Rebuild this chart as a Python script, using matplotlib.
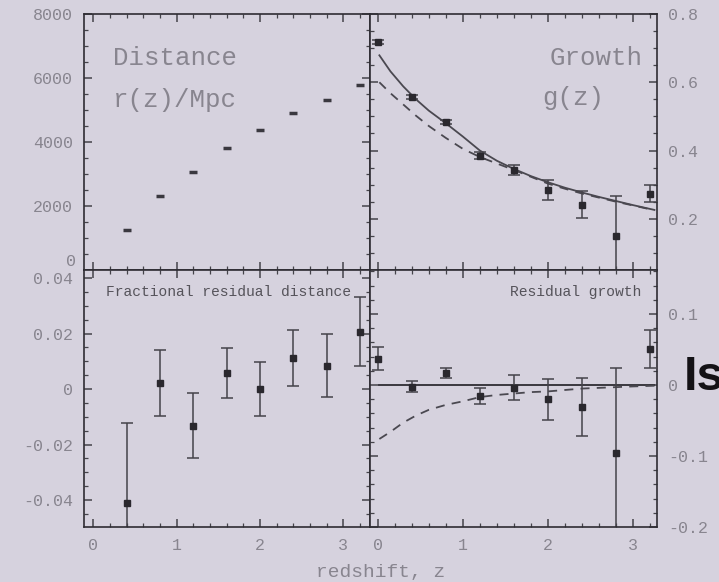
import numpy as np
import matplotlib
matplotlib.use('Agg')
import matplotlib.pyplot as plt
from matplotlib.ticker import MultipleLocator, FuncFormatter

# distance data
z_dist = [0.4, 0.8, 1.2, 1.6, 2.0, 2.4, 2.8, 3.2]
r_dist = [1250, 2310, 3060, 3810, 4375, 4905, 5310, 5780]

# growth data
z_growth = [0.0, 0.4, 0.8, 1.2, 1.6, 2.0, 2.4, 2.8, 3.2]
g_growth = [0.718, 0.556, 0.483, 0.385, 0.342, 0.285, 0.241, 0.150, 0.274]
g_err = [0.006, 0.006, 0.006, 0.010, 0.015, 0.030, 0.040, 0.118, 0.026]

# model curves
z_model = [0.02, 0.15, 0.3, 0.45, 0.6, 0.8, 1.0, 1.2, 1.4, 1.6, 1.8, 2.0,
           2.2, 2.4, 2.6, 2.8, 3.0, 3.25]
g_solid = [0.679, 0.632, 0.588, 0.550, 0.517, 0.480, 0.441, 0.400, 0.370,
           0.346, 0.325, 0.307, 0.291, 0.277, 0.264, 0.252, 0.240, 0.226]
g_dashed = [0.600, 0.568, 0.535, 0.502, 0.472, 0.437, 0.405, 0.381, 0.362,
            0.343, 0.323, 0.303, 0.288, 0.274, 0.262, 0.250, 0.239, 0.225]

# residuals
res_dist = [-0.0411, 0.0022, -0.0132, 0.0059, 0.0001, 0.0112, 0.0084, 0.0207]
res_dist_err = [0.029, 0.012, 0.0117, 0.009, 0.0097, 0.0102, 0.0114, 0.0124]

res_growth = [0.037, -0.0024, 0.0165, -0.0156, -0.0038, -0.0203, -0.0306, -0.0957, 0.0505]
res_growth_err = [0.016, 0.008, 0.007, 0.011, 0.0175, 0.0285, 0.041, 0.119, 0.027]

res_solid = [0.0] * len(z_model)
res_dashed = [-0.076, -0.066, -0.053, -0.043, -0.035, -0.028, -0.023, -0.017, -0.014,
              -0.012, -0.010, -0.009, -0.007, -0.005, -0.004, -0.003, -0.002, -0.001]

bg = '#d6d2de'
txt = '#88858f'
dark = '#2e2c33'
mono = 'Liberation Mono'

W, H = 719, 582
fig = plt.figure(figsize=(W / 100, H / 100), dpi=100)
fig.patch.set_facecolor(bg)


def fmt(v, p):
    return '%g' % (round(v, 6) + 0.0)


def make_ax(x0, x1, y0, y1, xlim, ylim, ymaj, ymin, left_lab, bottom_lab, yfmt=fmt):
    ax = fig.add_axes([x0 / W, 1 - y1 / H, (x1 - x0) / W, (y1 - y0) / H])
    ax.set_facecolor(bg)
    ax.set_xlim(*xlim)
    ax.set_ylim(*ylim)
    ax.xaxis.set_major_locator(MultipleLocator(1))
    ax.xaxis.set_minor_locator(MultipleLocator(0.2))
    ax.yaxis.set_major_locator(MultipleLocator(ymaj))
    ax.yaxis.set_minor_locator(MultipleLocator(ymin))
    ax.xaxis.set_major_formatter(FuncFormatter(fmt))
    ax.yaxis.set_major_formatter(FuncFormatter(yfmt))
    for s in ax.spines.values():
        s.set_color(dark)
        s.set_linewidth(1.2)
    ax.tick_params(which='both', direction='in', top=True, bottom=True, left=True, right=True,
                   color='#45434a', labelcolor=txt, labelsize=12, pad=8)
    ax.tick_params(which='major', length=6, width=1.1)
    ax.tick_params(which='minor', length=3, width=0.9)
    ax.tick_params(labelleft=left_lab, labelright=not left_lab, labelbottom=bottom_lab)
    for lab in ax.get_xticklabels() + ax.get_yticklabels():
        lab.set_family(mono)
    return ax


# the "0" of the distance panel is drawn by hand so it sits just above "0.04"
ax1 = make_ax(84, 370, 14, 270, (-0.11, 3.32), (0, 8000), 2000, 500, True, False,
              yfmt=lambda v, p: '' if abs(v) < 1 else '%d' % v)
ax2 = make_ax(370, 657, 14, 270, (-0.09, 3.28), (0.05, 0.8), 0.2, 0.05, False, False)
ax3 = make_ax(84, 370, 270, 527, (-0.11, 3.32), (-0.0497, 0.0429), 0.02, 0.005, True, True)
ax4 = make_ax(370, 657, 270, 527, (-0.09, 3.28), (-0.2, 0.162), 0.1, 0.02, False, True)

ax1.annotate('0', xy=(0, 0), xycoords=('axes fraction', 'data'), xytext=(-6, 0.5),
             textcoords='offset points', ha='right', va='bottom', fontsize=12,
             family=mono, color=txt)

# distance
ax1.plot(z_dist, r_dist, ls='none', marker='_', ms=6, mew=2.5, color='#3a383f')
ax1.text(0.10, 0.83, 'Distance', transform=ax1.transAxes, fontsize=18.5,
         family=mono, color=txt, va='center')
ax1.text(0.10, 0.665, 'r(z)/Mpc', transform=ax1.transAxes, fontsize=18.5,
         family=mono, color=txt, va='center')

# growth
ax2.plot(z_model, g_solid, color='#4a4850', lw=1.3)
ax2.plot(z_model, g_dashed, color='#4a4850', lw=1.3, dashes=(5, 4))
ax2.errorbar(z_growth, g_growth, yerr=g_err, fmt='s', ms=4, color='#2a282e',
             ecolor='#45434a', elinewidth=1.1, capsize=4, capthick=1.1)
ax2.text(0.95, 0.83, 'Growth', transform=ax2.transAxes, fontsize=18.5,
         family=mono, color=txt, va='center', ha='right')
ax2.text(0.60, 0.672, 'g(z)', transform=ax2.transAxes, fontsize=18.5,
         family=mono, color=txt, va='center')

# residual distance
ax3.errorbar(z_dist, res_dist, yerr=res_dist_err, fmt='s', ms=4, color='#2a282e',
             ecolor='#45434a', elinewidth=1.1, capsize=4, capthick=1.1)
ax3.text(0.504, 0.914, 'Fractional residual distance', transform=ax3.transAxes,
         fontsize=10.5, family=mono, color='#55535a', ha='center', va='center')

# residual growth
ax4.plot(z_model, res_solid, color='#3a383f', lw=1.4)
ax4.plot(z_model, res_dashed, color='#4a4850', lw=1.3, dashes=(5, 4))
ax4.errorbar(z_growth, res_growth, yerr=res_growth_err, fmt='s', ms=4, color='#2a282e',
             ecolor='#45434a', elinewidth=1.1, capsize=4, capthick=1.1)
ax4.text(0.944, 0.914, 'Residual growth', transform=ax4.transAxes,
         fontsize=10.5, family=mono, color='#55535a', ha='right', va='center')

fig.text(381 / W, 1 - 572 / H, 'redshift, z', fontsize=14, family=mono,
         color=txt, ha='center', va='center')
# big slide word running off the right edge, cut as in the photo
fig.text(684 / W, 1 - 390 / H, 'Is', fontsize=35, family='Liberation Sans',
         fontweight='bold', color='#141216', ha='left', va='baseline')

fig.savefig('out.png', dpi=100, facecolor=bg)
